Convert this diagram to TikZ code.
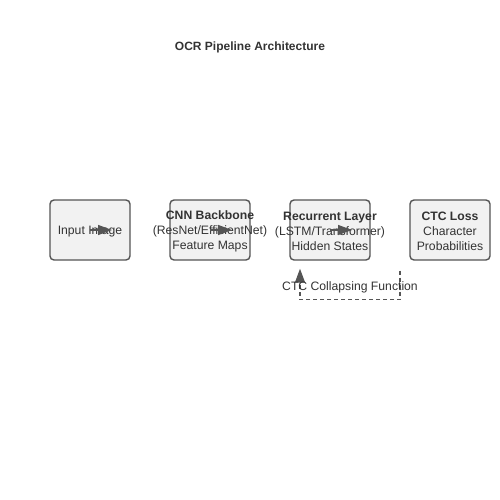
\documentclass[tikz,border=0pt]{standalone}
\usepackage{fontspec}
\setmainfont{Liberation Sans}
\usetikzlibrary{arrows.meta,positioning,calc}
\definecolor{boxfill}{HTML}{F2F2F2}
\definecolor{boxline}{HTML}{555555}
\definecolor{txt}{HTML}{333333}

\begin{document}
\begin{tikzpicture}[x=1pt,y=-1pt,
  stage/.style={rectangle, rounded corners=4pt, draw=boxline, line width=1.4pt, fill=boxfill, minimum width=80pt, minimum height=60pt},
  stagetext/.style={align=center, text=txt, font=\fontsize{12.2}{15}\selectfont, inner sep=0pt},
  flow/.style={-{Triangle[length=14pt,width=10pt]}, draw=boxline, line width=1.4pt},
  feedback/.style={flow, dash pattern=on 4pt off 3pt}]
  \useasboundingbox (0,0) rectangle (500,500);

  \node (title) [font=\bfseries\fontsize{12}{14}\selectfont, text=txt] at (250,47) {OCR Pipeline Architecture};

  \node (input) [stage] at (90,230) {};
  \node (cnn) [stage] at (210,230) {};
  \node (rnn) [stage] at (330,230) {};
  \node (ctc) [stage] at (450,230) {};

  \node [stagetext] at (90,231.5) {Input Image};
  \node [stagetext] at (210,231.5) {\textbf{CNN Backbone}\\(ResNet/EfficientNet)\\Feature Maps};
  \node [stagetext] at (330,231.5) {\textbf{Recurrent Layer}\\(LSTM/Transformer)\\Hidden States};
  \node [stagetext] at (450,231.5) {\textbf{CTC Loss}\\Character\\Probabilities};

  \coordinate (inputtip) at ($(input.center)+(22,0)$);
  \coordinate (cnntip) at ($(cnn.center)+(22,0)$);
  \coordinate (rnntip) at ($(rnn.center)+(22,0)$);
  \draw [flow] (input.center) -- (inputtip);
  \draw [flow] (cnn.center) -- (cnntip);
  \draw [flow] (rnn.center) -- (rnntip);

  % loop back from the loss to the recurrent layer
  \coordinate (loopstart) at ($(ctc.south)+(-50,10)$);
  \coordinate (loopend) at ($(rnn.south)+(-30,8)$);
  \draw [feedback] (loopstart) -- ++(0,29) -| (loopend);
  \node (collapse) [stagetext] at (350,287.5) {CTC Collapsing Function};
\end{tikzpicture}
\end{document}
